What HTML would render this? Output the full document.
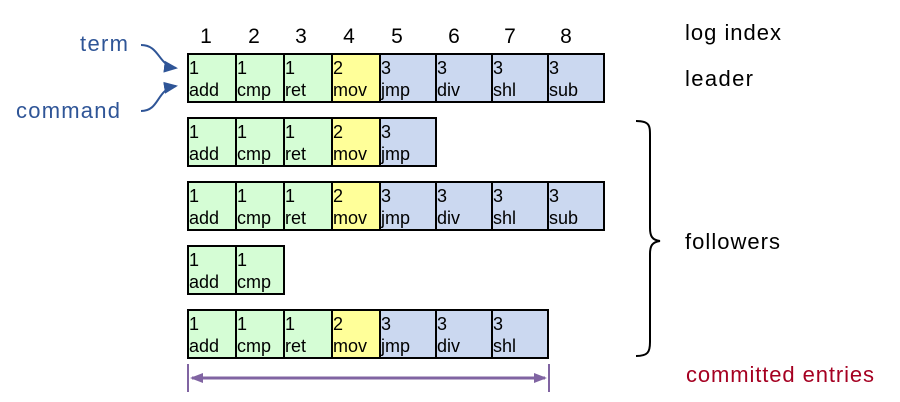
<!DOCTYPE html>
<html><head><meta charset="utf-8"><style>
html,body{margin:0;padding:0;background:#fff;width:900px;height:402px;overflow:hidden}
svg text{font-family:"Liberation Sans",sans-serif}
</style></head><body>
<svg width="900" height="402" viewBox="0 0 900 402" xmlns="http://www.w3.org/2000/svg">
<defs><marker id="ab" markerWidth="8" markerHeight="8" refX="6" refY="4" orient="auto"><path d="M0,1 L7,4 L0,7 z" fill="#2f5597"/></marker></defs>
<g font-size="21" fill="#000" text-anchor="middle">
<text x="206" y="43">1</text><text x="254" y="43">2</text><text x="301" y="43">3</text><text x="349" y="43">4</text>
<text x="397" y="43">5</text><text x="454" y="43">6</text><text x="510" y="43">7</text><text x="566" y="43">8</text>
</g>
<g font-size="22" fill="#000">
<text x="685" y="40" textLength="96">log index</text><text x="685" y="86" textLength="68">leader</text><text x="685" y="249" textLength="95">followers</text>
</g>
<text x="686" y="382" font-size="22" fill="#a50021" textLength="188">committed entries</text>
<text x="80" y="51" font-size="22" fill="#2f5597" textLength="48">term</text>
<text x="16" y="118" font-size="22" fill="#2f5597" textLength="104">command</text>
<path d="M141,45 C160,45 158,66 176,68" fill="none" stroke="#2f5597" stroke-width="2" marker-end="url(#ab)"/>
<path d="M141,111 C160,111 156,89 176,86" fill="none" stroke="#2f5597" stroke-width="2" marker-end="url(#ab)"/>
<g id="cells" font-size="18" fill="#000"></g>
<path d="M636,121 C650,121 650,126 650,136 L650,228 C650,236 652,240 660,241 C652,242 650,246 650,254 L650,342 C650,352 648,356 636,356" fill="none" stroke="#000" stroke-width="2"/>
<line x1="188" y1="364" x2="188" y2="392" stroke="#8064a2" stroke-width="2"/>
<line x1="549" y1="364" x2="549" y2="392" stroke="#8064a2" stroke-width="2"/>
<line x1="192" y1="378" x2="545" y2="378" stroke="#8064a2" stroke-width="3"/>
<path d="M190,378 L203,373 L203,383 z" fill="#8064a2"/>
<path d="M547,378 L534,373 L534,383 z" fill="#8064a2"/>
</svg>
<script>
var xs=[188,236,284,332,380,436,492,548,604];
var t=["1","1","1","2","3","3","3","3"],c=["add","cmp","ret","mov","jmp","div","shl","sub"];
var col={"1":"#d5fdd5","2":"#ffff99","3":"#cbd8f0"};
var rows=[[54,8],[118,5],[182,8],[246,2],[310,7]];
var g=document.getElementById("cells"),s="";
rows.forEach(function(r){var y=r[0];for(var i=0;i<r[1];i++){var x=xs[i],w=xs[i+1]-x;
s+='<rect x="'+x+'" y="'+y+'" width="'+w+'" height="48" fill="'+col[t[i]]+'" stroke="#000" stroke-width="2"/>';
s+='<text x="'+(x+1)+'" y="'+(y+20)+'">'+t[i]+'</text><text x="'+(x+1)+'" y="'+(y+42)+'">'+c[i]+'</text>';}});
g.innerHTML=s;
</script>
</body></html>
